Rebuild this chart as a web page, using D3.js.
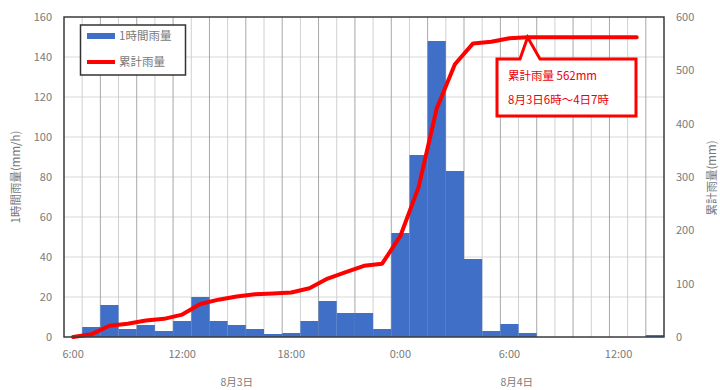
<!DOCTYPE html>
<html>
<head>
<meta charset="utf-8">
<script src="https://cdn.jsdelivr.net/npm/d3@7"></script>
<style>
  html, body { margin: 0; padding: 0; background: #fff; }
  svg { display: block; font-family: "Noto Sans CJK JP", "Noto Sans", sans-serif; }
</style>
</head>
<body>
<svg id="chart" width="720" height="390"></svg>
<script>
// Hours from 8/3 6:00 through 8/4 14:00
const hours = [
  "3-06","3-07","3-08","3-09","3-10","3-11","3-12","3-13","3-14","3-15","3-16","3-17",
  "3-18","3-19","3-20","3-21","3-22","3-23","4-00","4-01","4-02","4-03","4-04","4-05",
  "4-06","4-07","4-08","4-09","4-10","4-11","4-12","4-13","4-14"
];
// Hourly rainfall (mm/h)
const hourly = [
  0, 5, 16, 4, 6, 3, 8, 20, 8, 6, 4, 1.5,
  2, 8, 18, 12, 12, 4, 52, 91, 148, 83, 39, 3,
  6.5, 2, 0, 0, 0, 0, 0, 0, 1
];
// Cumulative rainfall (mm), drawn up to 4日13時
const cumulative = [
  0, 5, 21, 25, 31, 34, 42, 62, 70, 76, 80, 81.5,
  83.5, 91.5, 109.5, 121.5, 133.5, 137.5, 189.5, 280.5, 428.5, 511.5, 550.5, 553.5,
  560, 562, 562, 562, 562, 562, 562, 562
];
// Category-axis labels
const tickLabels = [
  { hour: "3-06", text: "6:00" }, { hour: "3-12", text: "12:00" }, { hour: "3-18", text: "18:00" },
  { hour: "4-00", text: "0:00" }, { hour: "4-06", text: "6:00" }, { hour: "4-12", text: "12:00" }
];
const dayLabels = [ { hour: "3-15", text: "8月3日", off: 0.5 }, { hour: "4-06", text: "8月4日", off: 0.9 } ];
const leftTicks = [0, 20, 40, 60, 80, 100, 120, 140, 160];
const rightTicks = [0, 100, 200, 300, 400, 500, 600];
const seriesNames = ["1時間雨量", "累計雨量"];
const noteLines = ["累計雨量 562mm", "8月3日6時～4日7時"];
const noteHour = "4-07";

const svg = d3.select("#chart");
const L = 64, R = 664, T = 17, B = 337;

const x = d3.scaleBand().domain(hours).range([L, R]).padding(0);
const yL = d3.scaleLinear().domain([0, 160]).range([B, T]);
const yR = d3.scaleLinear().domain([0, 600]).range([B, T]);
const bw = x.bandwidth();

// horizontal gridlines
svg.append("g").selectAll("line").data(leftTicks.slice(1, -1)).join("line")
  .attr("x1", L).attr("x2", R)
  .attr("y1", d => yL(d)).attr("y2", d => yL(d))
  .attr("stroke", "#d9d9d9").attr("stroke-width", 1);

// vertical gridlines at category boundaries
svg.append("g").selectAll("line").data(d3.range(1, hours.length)).join("line")
  .attr("x1", i => L + i * bw).attr("x2", i => L + i * bw)
  .attr("y1", T).attr("y2", B)
  .attr("stroke", i => i % 2 === 0 ? "#a8a8a8" : "#d0d0d0").attr("stroke-width", 1);

// hourly bars
svg.append("g").selectAll("rect").data(hours.map((h, i) => ({ h, v: hourly[i] }))).join("rect")
  .attr("x", d => x(d.h)).attr("width", bw)
  .attr("y", d => yL(d.v)).attr("height", d => B - yL(d.v))
  .attr("fill", "#3f6fc6");

// cumulative line
const line = d3.line()
  .x((d, i) => x(hours[i]) + bw / 2)
  .y(d => yR(d));
svg.append("path").datum(cumulative)
  .attr("d", line)
  .attr("fill", "none").attr("stroke", "#ff0000").attr("stroke-width", 4)
  .attr("stroke-linejoin", "round").attr("stroke-linecap", "round");

// plot border
svg.append("rect").attr("x", L).attr("y", T).attr("width", R - L).attr("height", B - T)
  .attr("fill", "none").attr("stroke", "#3a3a3a").attr("stroke-width", 1.5);

// left axis labels
svg.append("g").selectAll("text").data(leftTicks).join("text")
  .attr("x", 52).attr("y", d => yL(d)).attr("dy", "0.35em")
  .attr("text-anchor", "end").attr("font-size", 11).attr("fill", "#7a7a7a")
  .text(d => d);

// right axis labels
svg.append("g").selectAll("text").data(rightTicks).join("text")
  .attr("x", 676).attr("y", d => yR(d)).attr("dy", "0.35em")
  .attr("text-anchor", "start").attr("font-size", 11).attr("fill", "#7a7a7a")
  .text(d => d);

// category labels
svg.append("g").selectAll("text").data(tickLabels).join("text")
  .attr("x", d => x(d.hour) + bw / 2).attr("y", 354).attr("dy", "0.35em")
  .attr("text-anchor", "middle").attr("font-size", 11).attr("fill", "#7a7a7a")
  .text(d => d.text);
svg.append("g").selectAll("text").data(dayLabels).join("text")
  .attr("x", d => x(d.hour) + bw * d.off).attr("y", 382).attr("dy", "0.35em")
  .attr("text-anchor", "middle").attr("font-size", 10.5).attr("fill", "#7a7a7a")
  .text(d => d.text);

// axis titles
svg.append("text").attr("transform", "translate(16,177) rotate(-90)")
  .attr("text-anchor", "middle").attr("dy", "0.35em")
  .attr("font-size", 11.5).attr("fill", "#7a7a7a").text("1時間雨量(mm/h)");
svg.append("text").attr("transform", "translate(712,178) rotate(-90)")
  .attr("text-anchor", "middle").attr("dy", "0.35em")
  .attr("font-size", 11.5).attr("fill", "#7a7a7a").text("累計雨量(mm)");

// legend
const lg = svg.append("g");
lg.append("rect").attr("x", 80.5).attr("y", 25).attr("width", 105).attr("height", 50)
  .attr("fill", "#fff").attr("stroke", "#333").attr("stroke-width", 1.5);
lg.append("rect").attr("x", 87).attr("y", 33).attr("width", 28).attr("height", 6).attr("fill", "#3f6fc6");
lg.append("line").attr("x1", 87).attr("x2", 115).attr("y1", 62).attr("y2", 62)
  .attr("stroke", "#ff0000").attr("stroke-width", 4);
lg.selectAll("text").data(seriesNames).join("text")
  .attr("x", 119).attr("y", (d, i) => 36 + i * 26).attr("dy", "0.35em")
  .attr("font-size", 11.5).attr("fill", "#7a7a7a").text(d => d);

// callout for the storm total
const px = x(noteHour) + bw / 2, py = yR(cumulative[hours.indexOf(noteHour)]);
const bx0 = 497, by0 = 59, bx1 = 636, by1 = 116;
svg.append("path")
  .attr("d", `M${bx0},${by0} L520,${by0} L${px},${py} L540,${by0} L${bx1},${by0} L${bx1},${by1} L${bx0},${by1} Z`)
  .attr("fill", "#fff").attr("stroke", "#ff0000").attr("stroke-width", 3).attr("stroke-linejoin", "miter");
svg.append("g").selectAll("text").data(noteLines).join("text")
  .attr("x", 508).attr("y", (d, i) => 76 + i * 24).attr("dy", "0.35em")
  .attr("font-size", 11.5).attr("fill", "#e8000b").text(d => d);
</script>
</body>
</html>
